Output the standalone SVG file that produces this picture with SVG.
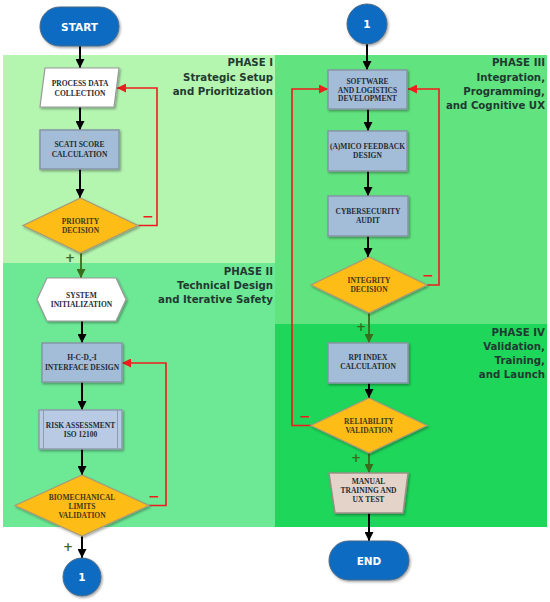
<svg xmlns="http://www.w3.org/2000/svg" width="550" height="602" viewBox="0 0 550 602">
<style>
  .ptitle { font-family: "DejaVu Sans", Verdana, sans-serif; font-weight: bold; font-size: 10.2px; fill: #1f3a31; text-anchor: end; }
  .nt { font-family: "Liberation Serif", "Times New Roman", serif; font-weight: bold; font-size: 7.5px; fill: #232b36; text-anchor: middle; }
  .dt { font-family: "Liberation Serif", "Times New Roman", serif; font-weight: bold; font-size: 7.5px; fill: #43371a; text-anchor: middle; }
  .term { font-family: "DejaVu Sans", Verdana, sans-serif; font-weight: bold; font-size: 10.5px; fill: #ffffff; text-anchor: middle; }
  .box { fill: #a3bcd7; stroke: #8796a6; stroke-width: 1.5; }
  .risk { fill: #b9cbe4; stroke: #8e9cac; stroke-width: 1.5; }
  .dia { fill: #fdbd14; stroke: #a89a78; stroke-width: 1.2; }
  .wht { fill: #ffffff; stroke: #9a9a9a; stroke-width: 1.2; }
  .trap { fill: #e3d3c9; stroke: #9a9088; stroke-width: 1.5; }
  .blue { fill: #0c6cc1; stroke: #4d6a86; stroke-width: 1; }
  .blk { fill: none; stroke: #000000; stroke-width: 2; marker-end: url(#ab); }
  .red { fill: none; stroke: #ee1c1c; stroke-width: 1.6; marker-end: url(#ar); }
  .grn { fill: none; stroke: #3b6b1c; stroke-width: 1.8; marker-end: url(#ag); }
  .minus { font-family: "DejaVu Sans", sans-serif; font-weight: bold; font-size: 14px; fill: #ee1c1c; text-anchor: middle; }
  .plus { font-family: "DejaVu Sans", sans-serif; font-weight: bold; font-size: 12px; fill: #3b6b1c; text-anchor: middle; }
</style>
<defs>
  <filter id="sh" x="-20%" y="-20%" width="140%" height="140%">
    <feDropShadow dx="1.2" dy="1.5" stdDeviation="1" flood-color="#000000" flood-opacity="0.35"/>
  </filter>
  <marker id="ab" viewBox="0 0 10 10" refX="10" refY="5" markerWidth="9" markerHeight="9" markerUnits="userSpaceOnUse" orient="auto">
    <path d="M0,0 L10,5 L0,10 z" fill="#000000"/>
  </marker>
  <marker id="ar" viewBox="0 0 10 10" refX="10" refY="5" markerWidth="9" markerHeight="9" markerUnits="userSpaceOnUse" orient="auto">
    <path d="M0,0 L10,5 L0,10 z" fill="#ee1c1c"/>
  </marker>
  <marker id="ag" viewBox="0 0 10 10" refX="10" refY="5" markerWidth="9" markerHeight="9" markerUnits="userSpaceOnUse" orient="auto">
    <path d="M0,0 L10,5 L0,10 z" fill="#3b6b1c"/>
  </marker>
</defs>
<rect x="0" y="0" width="550" height="602" fill="#ffffff"/>

<g id="phases">
  <rect x="3" y="55" width="272" height="208" fill="#b4f5b0"/>
  <rect x="3" y="263" width="272" height="264" fill="#6de996"/>
  <rect x="275" y="55" width="272" height="269" fill="#61e37f"/>
  <rect x="275" y="324" width="272" height="203" fill="#1ed65a"/>
  <text class="ptitle"><tspan x="273" y="66">PHASE I</tspan><tspan x="273" y="81">Strategic Setup</tspan><tspan x="273" y="95">and Prioritization</tspan></text>
  <text class="ptitle"><tspan x="273" y="275">PHASE II</tspan><tspan x="273" y="289">Technical Design</tspan><tspan x="273" y="303">and Iterative Safety</tspan></text>
  <text class="ptitle"><tspan x="545" y="66">PHASE III</tspan><tspan x="545" y="81">Integration,</tspan><tspan x="545" y="95">Programming,</tspan><tspan x="545" y="109">and Cognitive UX</tspan></text>
  <text class="ptitle"><tspan x="545" y="336">PHASE IV</tspan><tspan x="545" y="350">Validation,</tspan><tspan x="545" y="364">Training,</tspan><tspan x="545" y="378">and Launch</tspan></text>
</g>

<g id="connectors">
  <path class="blk" d="M80,46 L80,68"/>
  <path class="blk" d="M80,107 L80,130"/>
  <path class="blk" d="M80,169 L80,198"/>
  <path class="grn" d="M81,253 L81,278"/>
  <path class="red" d="M138,225.5 L157,225.5 L157,88 L117,88"/>
  <path class="blk" d="M82,321 L82,343"/>
  <path class="blk" d="M82,382 L82,410"/>
  <path class="blk" d="M82,449 L82,475"/>
  <path class="red" d="M149,505.5 L166,505.5 L166,363 L122,363"/>
  <path class="blk" d="M82,536 L82,558"/>

  <path class="blk" d="M367,44 L367,70"/>
  <path class="blk" d="M368,109 L368,131"/>
  <path class="blk" d="M368,171 L368,196"/>
  <path class="blk" d="M368,236 L368,257"/>
  <path class="red" d="M427,285 L439,285 L439,89 L408,89"/>
  <path class="grn" d="M369,313 L369,343"/>
  <path class="blk" d="M369,383 L369,398"/>
  <path class="red" d="M311,425.5 L292,425.5 L292,89 L328,89"/>
  <path class="grn" d="M369,453 L369,473"/>
  <path class="blk" d="M369,513 L369,541"/>

  <text class="minus" x="148" y="221">−</text>
  <text class="plus" x="70" y="262">+</text>
  <text class="minus" x="154" y="501">−</text>
  <text class="plus" x="68" y="551">+</text>
  <text class="minus" x="428" y="280">−</text>
  <text class="plus" x="361" y="331">+</text>
  <text class="minus" x="305" y="421">−</text>
  <text class="plus" x="356" y="462">+</text>
</g>

<g id="start">
  <rect class="blue" x="40" y="7" width="79" height="39" rx="19.5" filter="url(#sh)"/>
  <text class="term" x="79.5" y="30.5">START</text>
</g>
<g id="process-data">
  <polygon class="wht" points="45,68 119,68 114,107 40,107" filter="url(#sh)"/>
  <text class="nt"><tspan x="80" y="86">PROCESS DATA</tspan><tspan x="80" y="95.5">COLLECTION</tspan></text>
</g>
<g id="scati">
  <rect class="box" x="40" y="130" width="79" height="39" filter="url(#sh)"/>
  <text class="nt"><tspan x="79.5" y="147">SCATI SCORE</tspan><tspan x="79.5" y="156.5">CALCULATION</tspan></text>
</g>
<g id="priority">
  <polygon class="dia" points="80.5,198 138,225.5 80.5,253 23,225.5" filter="url(#sh)"/>
  <text class="dt"><tspan x="80.5" y="223.5">PRIORITY</tspan><tspan x="80.5" y="232.5">DECISION</tspan></text>
</g>
<g id="system-init">
  <polygon class="wht" points="37,299.5 47,278 116,278 126,299.5 116,321 47,321" filter="url(#sh)"/>
  <text class="nt"><tspan x="81.5" y="297.5">SYSTEM</tspan><tspan x="81.5" y="306.5">INITIALIZATION</tspan></text>
</g>
<g id="hcdi">
  <rect class="box" x="42" y="343" width="80" height="39" fill="#9fb8d3" filter="url(#sh)"/>
  <text class="nt"><tspan x="82" y="359.5">H-C-D<tspan font-size="5px" dy="1.5">x</tspan><tspan dy="-1.5">-I</tspan></tspan><tspan x="82" y="369.5">INTERFACE DESIGN</tspan></text>
</g>
<g id="risk">
  <rect class="risk" x="39" y="410" width="83" height="39" filter="url(#sh)"/>
  <line x1="43.5" y1="410" x2="43.5" y2="449" stroke="#8e9cac" stroke-width="1"/>
  <line x1="117.5" y1="410" x2="117.5" y2="449" stroke="#8e9cac" stroke-width="1"/>
  <text class="nt"><tspan x="80.5" y="427.5">RISK ASSESSMENT</tspan><tspan x="80.5" y="436.5">ISO 12100</tspan></text>
</g>
<g id="biomech">
  <polygon class="dia" points="82,475 149,505.5 82,536 15,505.5" filter="url(#sh)"/>
  <text class="dt"><tspan x="82" y="499.5">BIOMECHANICAL</tspan><tspan x="82" y="508.5">LIMITS</tspan><tspan x="82" y="517.5">VALIDATION</tspan></text>
</g>
<g id="connector-out">
  <circle class="blue" cx="82" cy="577" r="19" filter="url(#sh)"/>
  <text class="term" x="82" y="581">1</text>
</g>

<g id="connector-in">
  <circle class="blue" cx="367" cy="24" r="20" filter="url(#sh)"/>
  <text class="term" x="367" y="28">1</text>
</g>
<g id="software">
  <rect class="box" x="328" y="70" width="79" height="39" filter="url(#sh)"/>
  <text class="nt"><tspan x="367.5" y="84">SOFTWARE</tspan><tspan x="367.5" y="92.7">AND LOGISTICS</tspan><tspan x="367.5" y="101.4">DEVELOPMENT</tspan></text>
</g>
<g id="amico">
  <rect class="box" x="328" y="131" width="79" height="40" filter="url(#sh)"/>
  <text class="nt"><tspan x="367.5" y="148.5">(A)MICO FEEDBACK</tspan><tspan x="367.5" y="157.5">DESIGN</tspan></text>
</g>
<g id="cyber">
  <rect class="box" x="328" y="196" width="80" height="40" filter="url(#sh)"/>
  <text class="nt"><tspan x="368" y="213.5">CYBERSECURITY</tspan><tspan x="368" y="222.5">AUDIT</tspan></text>
</g>
<g id="integrity">
  <polygon class="dia" points="369,257 427,285 369,313 311,285" filter="url(#sh)"/>
  <text class="dt"><tspan x="369" y="283">INTEGRITY</tspan><tspan x="369" y="292">DECISION</tspan></text>
</g>
<g id="rpi">
  <rect class="box" x="328" y="343" width="80" height="40" filter="url(#sh)"/>
  <text class="nt"><tspan x="368" y="360">RPI INDEX</tspan><tspan x="368" y="369">CALCULATION</tspan></text>
</g>
<g id="reliability">
  <polygon class="dia" points="369,398 427,425.5 369,453 311,425.5" filter="url(#sh)"/>
  <text class="dt"><tspan x="369" y="423.5">RELIABILITY</tspan><tspan x="369" y="432.5">VALIDATION</tspan></text>
</g>
<g id="manual">
  <polygon class="trap" points="329,473 408,473 403,513 335,513" filter="url(#sh)"/>
  <text class="nt"><tspan x="368.5" y="484">MANUAL</tspan><tspan x="368.5" y="493">TRAINING AND</tspan><tspan x="368.5" y="502">UX TEST</tspan></text>
</g>
<g id="end">
  <rect class="blue" x="329" y="541" width="80" height="39" rx="19.5" filter="url(#sh)"/>
  <text class="term" x="369" y="564.5">END</text>
</g>
</svg>
